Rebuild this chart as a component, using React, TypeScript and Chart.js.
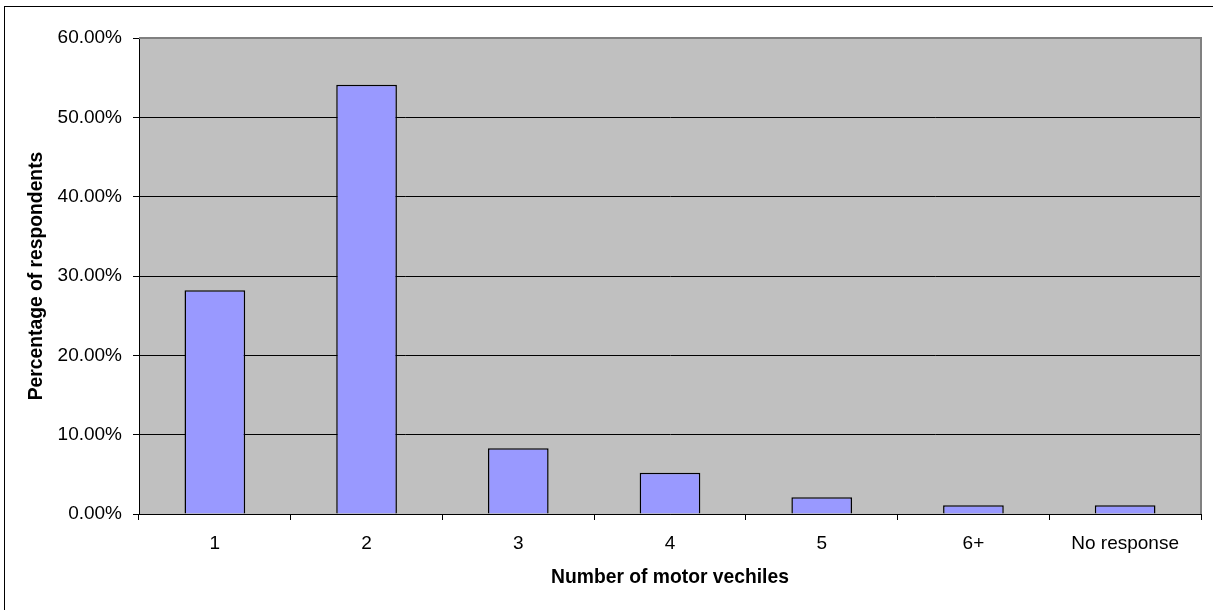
import React, { useEffect, useRef } from "react";
import { Chart, registerables } from "chart.js";

Chart.register(...registerables);

const categories = ["1", "2", "3", "4", "5", "6+", "No response"];
const percentages = [28.2, 54.1, 8.3, 5.2, 2.1, 1.1, 1.1];
const yTicks = [0, 10, 20, 30, 40, 50, 60];

const FONT = "'Liberation Sans', Arial, sans-serif";

const framePlugin = {
  id: "framePlugin",
  beforeDraw(chart: any) {
    const { ctx, chartArea } = chart;
    ctx.save();
    ctx.fillStyle = "#ffffff";
    ctx.fillRect(0, 0, chart.width, chart.height);
    ctx.fillStyle = "#C0C0C0";
    ctx.fillRect(chartArea.left, chartArea.top, chartArea.right - chartArea.left, chartArea.bottom - chartArea.top);
    ctx.restore();
  },
  afterDraw(chart: any) {
    const { ctx, chartArea } = chart;
    ctx.save();
    ctx.strokeStyle = "#808080";
    ctx.lineWidth = 2;
    ctx.beginPath();
    ctx.moveTo(chartArea.left, chartArea.top);
    ctx.lineTo(chartArea.right, chartArea.top);
    ctx.lineTo(chartArea.right, chartArea.bottom);
    ctx.stroke();
    ctx.strokeStyle = "#000000";
    ctx.lineWidth = 1;
    ctx.strokeRect(4.5, 6.5, chart.width + 50, chart.height + 50);
    ctx.restore();
  },
};

export default function App() {
  const ref = useRef<HTMLCanvasElement>(null);
  useEffect(() => {
    if (!ref.current) return;
    const chart = new Chart(ref.current, {
      type: "bar",
      data: {
        labels: categories,
        datasets: [
          {
            data: percentages,
            backgroundColor: "#9999FF",
            borderColor: "#000000",
            borderWidth: 1.5,
            categoryPercentage: 1,
            barPercentage: 0.4,
          },
        ],
      },
      options: {
        responsive: false,
        animation: false,
        layout: { padding: { left: 0, top: 38, right: 12, bottom: 0 } },
        plugins: { legend: { display: false }, tooltip: { enabled: false } },
        scales: {
          x: {
            grid: { display: true, drawOnChartArea: false, drawTicks: true, tickLength: 6, tickColor: "#000", offset: true },
            border: { color: "#000", width: 1 },
            ticks: { color: "#000", font: { family: FONT, size: 19 }, padding: 12, maxRotation: 0, autoSkip: false },
            title: {
              display: true,
              text: "Number of motor vechiles",
              color: "#000",
              font: { family: FONT, size: 19.3, weight: "bold" },
              padding: { top: 0, bottom: 21 },
            },
            afterFit(scale: any) {
              scale.height = 96;
            },
          },
          y: {
            min: 0,
            max: 60,
            afterBuildTicks(scale: any) {
              scale.ticks = yTicks.map((v) => ({ value: v }));
            },
            grid: {
              color: (c: any) => (c.tick && c.tick.value === 60 ? "#808080" : "#000"),
              tickColor: "#000",
              tickLength: 6,
              drawTicks: true,
            },
            border: { color: "#000", width: 1 },
            ticks: {
              color: "#000",
              font: { family: FONT, size: 19 },
              padding: 11,
              callback: (v: any) => Number(v).toFixed(2) + "%",
            },
            title: {
              display: true,
              text: "Percentage of respondents",
              color: "#000",
              font: { family: FONT, size: 19.3, weight: "bold" },
              padding: { top: 25, bottom: 0 },
            },
            afterFit(scale: any) {
              scale.width = 139;
            },
          },
        },
      },
      plugins: [framePlugin],
    });
    return () => chart.destroy();
  }, []);
  return (
    <div style={{ position: "fixed", left: 0, top: 0, width: 1213, height: 610 }}>
      <canvas ref={ref} width={1213} height={610} style={{ display: "block" }} />
    </div>
  );
}
